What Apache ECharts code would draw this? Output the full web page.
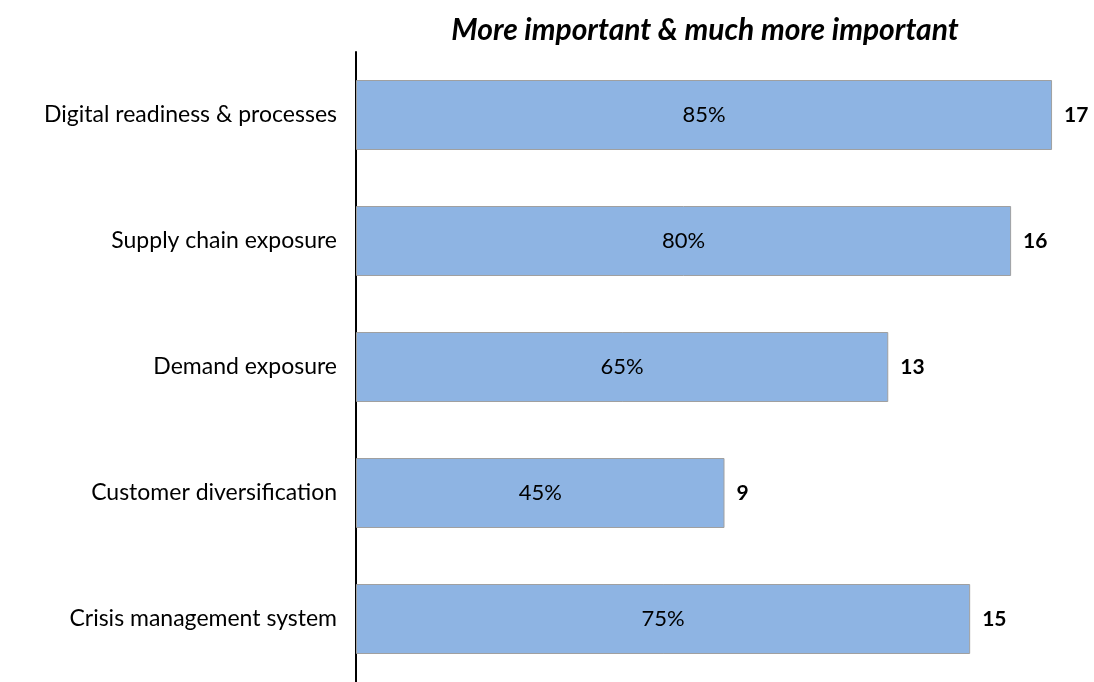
<!DOCTYPE html>
<html>
<head>
<meta charset="utf-8">
<script src="https://cdn.jsdelivr.net/npm/echarts@6/dist/echarts.min.js"></script>
<style>
  html, body { margin: 0; padding: 0; background: #fff; }
  #chart { width: 1094px; height: 682px; }
</style>
</head>
<body>
<div id="chart"></div>
<script>
// Factors rated "more important" or "much more important" (n = 20)
const categories = [
  'Digital readiness & processes',
  'Supply chain exposure',
  'Demand exposure',
  'Customer diversification',
  'Crisis management system'
];
const counts = [17, 16, 13, 9, 15];
const percents = [85, 80, 65, 45, 75];

const FONT = 'Lato, "Open Sans", sans-serif';

const chart = echarts.init(document.getElementById('chart'));
chart.setOption({
  animation: false,
  title: {
    text: 'More important & much more important',
    left: 700,
    textAlign: 'center',
    top: 10,
    textStyle: {
      fontFamily: FONT,
      fontSize: 30,
      fontWeight: 'bold',
      fontStyle: 'italic',
      color: '#000'
    }
  },
  grid: { left: 356, right: 1, top: 52, bottom: -4, containLabel: false },
  xAxis: {
    type: 'value',
    min: 0,
    max: 18,
    show: false
  },
  yAxis: {
    type: 'category',
    data: categories,
    inverse: true,
    axisLine: { show: true, lineStyle: { color: '#000', width: 2 } },
    axisTick: { show: false },
    axisLabel: {
      margin: 19,
      fontFamily: FONT,
      fontSize: 23,
      color: '#000'
    }
  },
  series: [
    {
      type: 'bar',
      data: counts,
      barWidth: 70,
      itemStyle: { color: '#8EB4E3', borderColor: '#A0A0A0', borderWidth: 1 },
      label: {
        show: true,
        position: 'inside',
        fontFamily: FONT,
        fontSize: 22,
        color: '#000',
        formatter: p => percents[p.dataIndex] + '%'
      },
      z: 2
    },
    {
      type: 'bar',
      data: counts,
      barWidth: 70,
      barGap: '-100%',
      silent: true,
      itemStyle: { color: 'rgba(0,0,0,0)' },
      label: {
        show: true,
        position: 'right',
        distance: 12,
        fontFamily: FONT,
        fontSize: 21,
        fontWeight: 'bold',
        color: '#000',
        formatter: p => String(p.value)
      },
      z: 3
    }
  ]
});
</script>
</body>
</html>
